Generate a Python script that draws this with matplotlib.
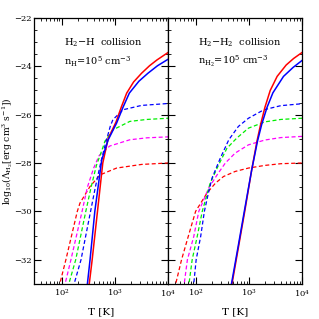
import numpy as np
import matplotlib
matplotlib.use("Agg")
import matplotlib.pyplot as plt
from matplotlib.ticker import MultipleLocator, LogLocator, LogFormatterMathtext, NullFormatter

plt.rcParams['font.family'] = ['DejaVu Serif']
plt.rcParams['mathtext.fontset'] = 'dejavuserif'

# ---------------- data: log10(T) and log10(Lambda) ----------------
# Left panel: H2-H collision
L_red_solid_logT = [2.40, 2.515, 2.57, 2.67, 2.77, 2.87, 3.02, 3.12, 3.22, 3.35, 3.50, 3.65, 3.79, 4.0]
L_red_solid_val  = [-35.0, -33.0, -32.0, -30.0, -28.0, -27.0, -26.3, -25.68, -25.11, -24.65, -24.29, -23.98, -23.74, -23.43]
L_blue_solid_logT = [2.38, 2.48, 2.53, 2.62, 2.75, 2.87, 3.03, 3.15, 3.27, 3.45, 3.62, 3.80, 4.0]
L_blue_solid_val  = [-35.0, -33.0, -32.0, -30.0, -27.87, -27.05, -26.35, -25.70, -25.11, -24.62, -24.29, -23.98, -23.71]

L_blue_dash_logT = [2.10, 2.23, 2.36, 2.54, 2.63, 2.73, 2.82, 2.91, 2.96, 3.15, 3.5, 4.0]
L_blue_dash_val  = [-34.5, -33.0, -32.0, -30.0, -29.0, -28.0, -27.2, -26.49, -26.21, -25.80, -25.62, -25.54]
L_green_dash_logT = [2.00, 2.13, 2.26, 2.45, 2.55, 2.65, 2.77, 2.81, 2.96, 3.28, 3.6, 4.0]
L_green_dash_val  = [-34.5, -33.0, -32.0, -30.0, -29.0, -28.1, -27.37, -27.1, -26.63, -26.28, -26.2, -26.15]
L_mag_dash_logT = [1.93, 2.06, 2.17, 2.38, 2.48, 2.60, 2.70, 2.90, 3.28, 3.6, 4.0]
L_mag_dash_val  = [-34.5, -33.0, -32.0, -30.0, -29.0, -28.2, -27.7, -27.3, -27.04, -26.96, -26.92]
L_red_dash_logT = [1.84, 1.96, 2.075, 2.29, 2.34, 2.53, 2.72, 3.03, 3.5, 4.0]
L_red_dash_val  = [-34.5, -33.0, -32.0, -30.0, -29.66, -28.97, -28.49, -28.21, -28.06, -28.0]

# Right panel: H2-H2 collision
R_red_solid_logT = [2.56, 2.68, 2.80, 2.92, 3.05, 3.15, 3.22, 3.30, 3.40, 3.53, 3.70, 3.84, 4.0]
R_red_solid_val  = [-34.5, -33.0, -31.5, -30.0, -28.3, -27.1, -26.4, -25.7, -25.0, -24.42, -23.95, -23.68, -23.43]
R_blue_solid_logT = [2.55, 2.67, 2.80, 2.92, 3.05, 3.16, 3.24, 3.34, 3.45, 3.65, 3.83, 4.0]
R_blue_solid_val  = [-34.5, -33.0, -31.4, -29.9, -28.3, -27.1, -26.4, -25.7, -25.1, -24.42, -24.05, -23.76]

R_blue_dash_logT = [1.90, 1.96, 2.005, 2.09, 2.16, 2.24, 2.305, 2.46, 2.62, 2.80, 2.99, 3.28, 3.6, 4.0]
R_blue_dash_val  = [-34.0, -33.0, -32.0, -31.04, -30.0, -29.2, -28.62, -27.8, -27.04, -26.49, -26.15, -25.80, -25.63, -25.55]
R_green_dash_logT = [1.81, 1.87, 1.93, 2.025, 2.12, 2.27, 2.43, 2.585, 2.77, 2.99, 3.3, 3.6, 4.0]
R_green_dash_val  = [-34.0, -33.0, -32.0, -31.04, -30.0, -28.83, -28.07, -27.39, -26.97, -26.56, -26.3, -26.2, -26.15]
R_mag_dash_logT = [1.72, 1.78, 1.84, 1.96, 2.055, 2.24, 2.40, 2.555, 2.74, 2.99, 3.3, 3.6, 4.0]
R_mag_dash_val  = [-34.0, -33.0, -32.0, -31.04, -30.0, -29.04, -28.49, -28.0, -27.59, -27.25, -27.05, -26.95, -26.9]
R_red_dash_logT = [1.52, 1.62, 1.73, 1.856, 1.995, 2.21, 2.37, 2.52, 2.74, 2.99, 3.3, 3.6, 4.0]
R_red_dash_val  = [-34.0, -33.0, -32.0, -31.04, -30.0, -29.24, -28.83, -28.56, -28.35, -28.21, -28.1, -28.03, -28.0]

panel_titles = ["H$_2$$-$H  collision", "H$_2$$-$H$_2$  collision"]
panel_dens = ["n$_\\mathrm{H}$=10$^5$ cm$^{-3}$", "n$_{\\mathrm{H}_2}$=10$^5$ cm$^{-3}$"]
xlabel = "T [K]"
ylabel = "log$_{10}$($\\Lambda_{\\mathrm{H}_2}$[erg cm$^3$ s$^{-1}$])"

# ---------------- figure ----------------
fig = plt.figure(figsize=(3.19, 3.19), dpi=100)
fig.subplots_adjust(left=0.107, right=0.947, bottom=0.110, top=0.944, wspace=0)
axes = [fig.add_subplot(1, 2, 1), fig.add_subplot(1, 2, 2)]

dash = (3.2, 2.0)
panels = [
    [(L_red_dash_logT, L_red_dash_val, '#ff0000', True),
     (L_mag_dash_logT, L_mag_dash_val, '#ff00ff', True),
     (L_green_dash_logT, L_green_dash_val, '#00ee00', True),
     (L_blue_dash_logT, L_blue_dash_val, '#0000ff', True),
     (L_red_solid_logT, L_red_solid_val, '#ff0000', False),
     (L_blue_solid_logT, L_blue_solid_val, '#0000ff', False)],
    [(R_red_dash_logT, R_red_dash_val, '#ff0000', True),
     (R_mag_dash_logT, R_mag_dash_val, '#ff00ff', True),
     (R_green_dash_logT, R_green_dash_val, '#00ee00', True),
     (R_blue_dash_logT, R_blue_dash_val, '#0000ff', True),
     (R_red_solid_logT, R_red_solid_val, '#ff0000', False),
     (R_blue_solid_logT, R_blue_solid_val, '#0000ff', False)],
]

for i, ax in enumerate(axes):
    for lt, v, c, dashed in panels[i]:
        T = 10 ** np.array(lt)
        if dashed:
            ax.plot(T, v, color=c, lw=0.9, dashes=dash)
        else:
            ax.plot(T, v, color=c, lw=1.1)
    ax.set_xscale('log')
    ax.set_xlim(30, 1e4)
    ax.set_ylim(-33, -22)
    ax.yaxis.set_major_locator(MultipleLocator(2))
    ax.yaxis.set_minor_locator(MultipleLocator(0.5))
    ax.xaxis.set_major_locator(LogLocator(base=10, numticks=10))
    ax.xaxis.set_minor_locator(LogLocator(base=10, subs=np.arange(2, 10), numticks=10))
    ax.xaxis.set_major_formatter(LogFormatterMathtext())
    ax.xaxis.set_minor_formatter(NullFormatter())
    ax.tick_params(which='both', direction='in', top=True, right=True, labelsize=6, pad=3)
    ax.tick_params(axis='y', pad=1.5)
    ax.tick_params(which='major', length=5, width=0.8)
    ax.tick_params(which='minor', length=2.5, width=0.6)
    for s in ax.spines.values():
        s.set_linewidth(0.9)
    ax.set_xlabel(xlabel, fontsize=7.5, labelpad=6)
    ax.text(0.22, 0.905, panel_titles[i], transform=ax.transAxes, fontsize=7, va='center')
    ax.text(0.22, 0.835, panel_dens[i], transform=ax.transAxes, fontsize=7, va='center')

axes[1].tick_params(labelleft=False)
fig.text(7.8 / 319, 0.527, ylabel, rotation=90, ha='center', va='center', fontsize=6.6)

fig.savefig("out.png", dpi=100)
